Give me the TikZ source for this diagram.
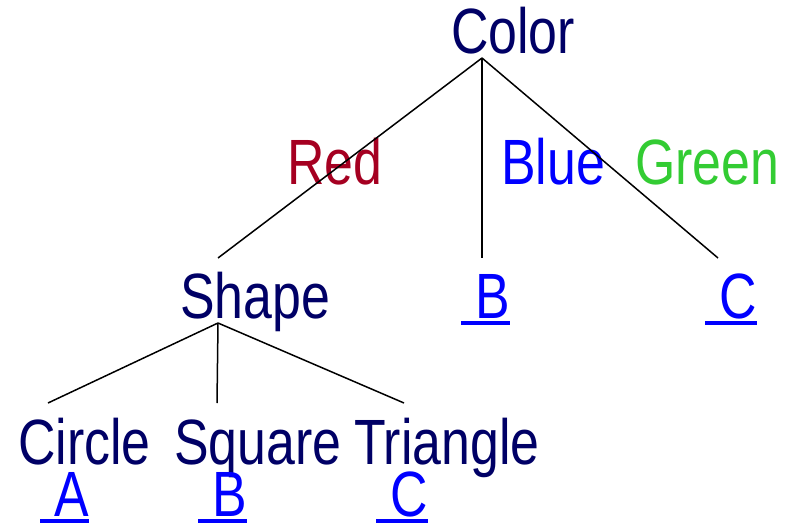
\documentclass[tikz,border=0pt]{standalone}
\usepackage{fontspec}
\setmainfont[FakeStretch=0.81]{Liberation Sans}
\definecolor{navy}{RGB}{0,0,102}
\definecolor{crim}{RGB}{165,0,33}
\definecolor{lgreen}{RGB}{51,204,51}
\definecolor{lblue}{RGB}{0,0,255}
\newcommand\ulink[1]{\setbox0\hbox{\ #1}\rlap{\color{lblue}\rule[-7pt]{\wd0}{4pt}}\box0}
\begin{document}
\begin{tikzpicture}[x=1pt,y=-1pt,
  lbl/.style={anchor=base west,inner sep=0pt,font=\fontsize{64}{64}\selectfont},
  nav/.style={lbl,text=navy},
  lnk/.style={lbl,text=lblue},
  edge/.style={draw=black,line width=1.5pt}]
\useasboundingbox (0,0) rectangle (794,527);
\node[nav] (color) at (451,53) {Color};
\node[lbl,text=crim] (red) at (287,184) {Red};
\node[lbl,text=lblue] (blue) at (501,184) {Blue};
\node[lbl,text=lgreen] (green) at (635,184) {Green};
\node[nav] (shape) at (180,318) {Shape};
\node[lnk] (b1) at (461,318) {\ulink{B}};
\node[lnk] (c1) at (705,318) {\ulink{C}};
\node[nav] (circle) at (18,464) {Circle};
\node[nav] (square) at (174,464) {Square};
\node[nav] (triangle) at (354,464) {Triangle};
\node[lnk] (a2) at (40,516) {\ulink{A}};
\node[lnk] (b2) at (198,516) {\ulink{B}};
\node[lnk] (c2) at (376,516) {\ulink{C}};
\coordinate (croot) at (482,58);
\coordinate (cshape) at (218,258);
\coordinate (cb) at (482,258);
\coordinate (cc) at (718,258);
\coordinate (sroot) at (218,323);
\coordinate (scircle) at (48,403);
\coordinate (ssquare) at (217,403);
\coordinate (striangle) at (404,403);
\draw[edge] (croot) -- (cshape);
\draw[edge] (croot) -- (cb);
\draw[edge] (croot) -- (cc);
\draw[edge] (sroot) -- (scircle);
\draw[edge] (sroot) -- (ssquare);
\draw[edge] (sroot) -- (striangle);
\end{tikzpicture}
\end{document}
